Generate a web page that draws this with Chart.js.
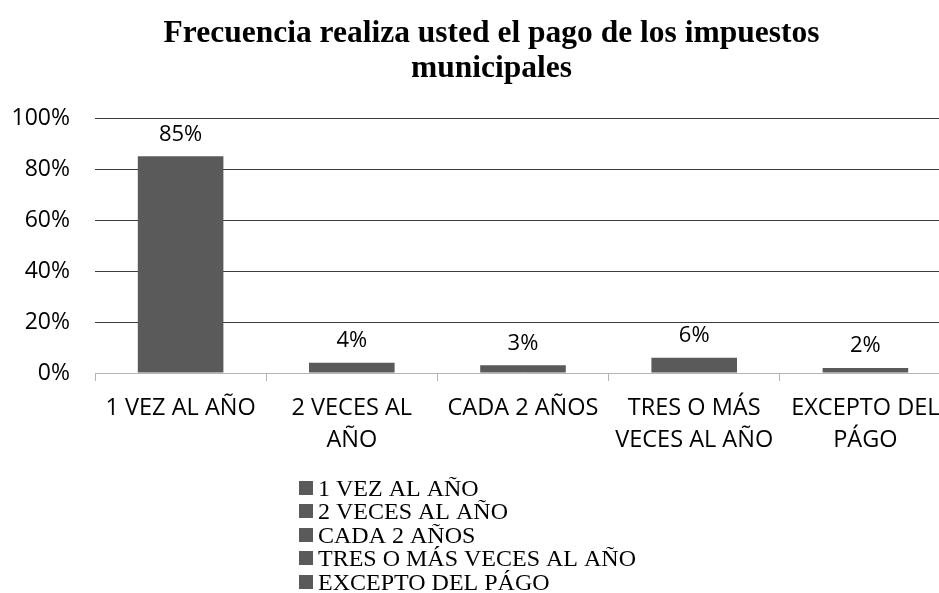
<!DOCTYPE html>
<html>
<head>
<meta charset="utf-8">
<script src="https://cdn.jsdelivr.net/npm/chart.js@4/dist/chart.umd.min.js"></script>
<style>
  html, body { margin: 0; padding: 0; background: #ffffff; overflow: hidden; }
  #wrap { width: 939px; height: 593px; overflow: hidden; position: relative; }
  canvas { display: block; }
</style>
</head>
<body>
<div id="wrap"><canvas id="c" width="983" height="593"></canvas></div>
<script>
const titleLines = ["Frecuencia realiza usted el pago de los impuestos", "municipales"];
const categories = [
  ["1 VEZ AL AÑO"],
  ["2 VECES AL", "AÑO"],
  ["CADA 2 AÑOS"],
  ["TRES O MÁS", "VECES AL AÑO"],
  ["EXCEPTO DEL", "PÁGO"]
];
const legendLabels = ["1 VEZ AL AÑO", "2 VECES AL AÑO", "CADA 2 AÑOS", "TRES O MÁS VECES AL AÑO", "EXCEPTO DEL PÁGO"];
const values = [85, 4, 3, 6, 2];
const yTicks = [0, 20, 40, 60, 80, 100];

const BAR_COLOR = '#5a5a5a';
const SANS = '"Open Sans", "Liberation Sans", sans-serif';
const SERIF = '"Liberation Serif", "Times New Roman", serif';

const dataLabelPlugin = {
  id: 'dataLabels',
  afterDatasetsDraw(chart) {
    const ctx = chart.ctx;
    const meta = chart.getDatasetMeta(0);
    ctx.save();
    ctx.font = '22px ' + SANS;
    ctx.fillStyle = '#000000';
    ctx.textAlign = 'center';
    ctx.textBaseline = 'middle';
    meta.data.forEach((bar, i) => {
      ctx.fillText(values[i] + '%', bar.x, bar.y - 22);
    });
    ctx.restore();
  }
};

const customLegend = {
  id: 'customLegend',
  afterDraw(chart) {
    const ctx = chart.ctx;
    ctx.save();
    ctx.font = '24px ' + SERIF;
    ctx.textAlign = 'left';
    ctx.textBaseline = 'alphabetic';
    legendLabels.forEach((lab, i) => {
      const top = Math.round(481 + i * 23.4);
      ctx.fillStyle = BAR_COLOR;
      ctx.fillRect(299, top, 14, 14);
      ctx.fillStyle = '#000000';
      ctx.fillText(lab, 318, top + 15);
    });
    ctx.restore();
  }
};

new Chart(document.getElementById('c'), {
  type: 'bar',
  data: {
    labels: categories,
    datasets: [{
      data: values,
      backgroundColor: BAR_COLOR,
      borderWidth: 0,
      categoryPercentage: 1.0,
      barPercentage: 0.5,
      yAxisID: 'y'
    }]
  },
  options: {
    responsive: false,
    animation: false,
    devicePixelRatio: 1,
    layout: { padding: { left: 0, right: 0, top: 0, bottom: 0 } },
    plugins: {
      legend: { display: false },
      tooltip: { enabled: false },
      title: {
        display: true,
        text: titleLines,
        color: '#000000',
        font: { family: SERIF, size: 31.5, weight: 'bold', lineHeight: '35px' },
        padding: { top: 16, bottom: 32 }
      }
    },
    scales: {
      x: {
        afterFit(scale) { scale.height = 220; },
        border: { display: true, color: '#b4b4b4', width: 1 },
        grid: {
          display: true,
          offset: true,
          drawOnChartArea: false,
          drawTicks: true,
          tickLength: 8,
          color: '#b4b4b4'
        },
        ticks: {
          color: '#000000',
          font: { family: SANS, size: 23.5, lineHeight: 1.36 },
          padding: 11,
          maxRotation: 0,
          autoSkip: false
        }
      },
      y: {
        position: 'left',
        min: 0,
        max: 100,
        afterFit(scale) { scale.width = 95; },
        afterBuildTicks(scale) { scale.ticks = yTicks.map(v => ({ value: v })); },
        border: { display: false },
        grid: {
          drawTicks: false,
          color: (c) => (c.tick && c.tick.value === 0) ? 'rgba(0,0,0,0)' : '#3c3c3c',
          lineWidth: 1
        },
        ticks: {
          color: '#000000',
          font: { family: SANS, size: 23 },
          padding: 25,
          callback: (v) => v + '%'
        }
      },
      spacer: {
        type: 'linear',
        position: 'right',
        min: 0,
        max: 100,
        afterFit(scale) { scale.width = 32; },
        border: { display: false },
        grid: { display: false, drawOnChartArea: false, drawTicks: false },
        ticks: { display: false }
      }
    }
  },
  plugins: [dataLabelPlugin, customLegend]
});
</script>
</body>
</html>
